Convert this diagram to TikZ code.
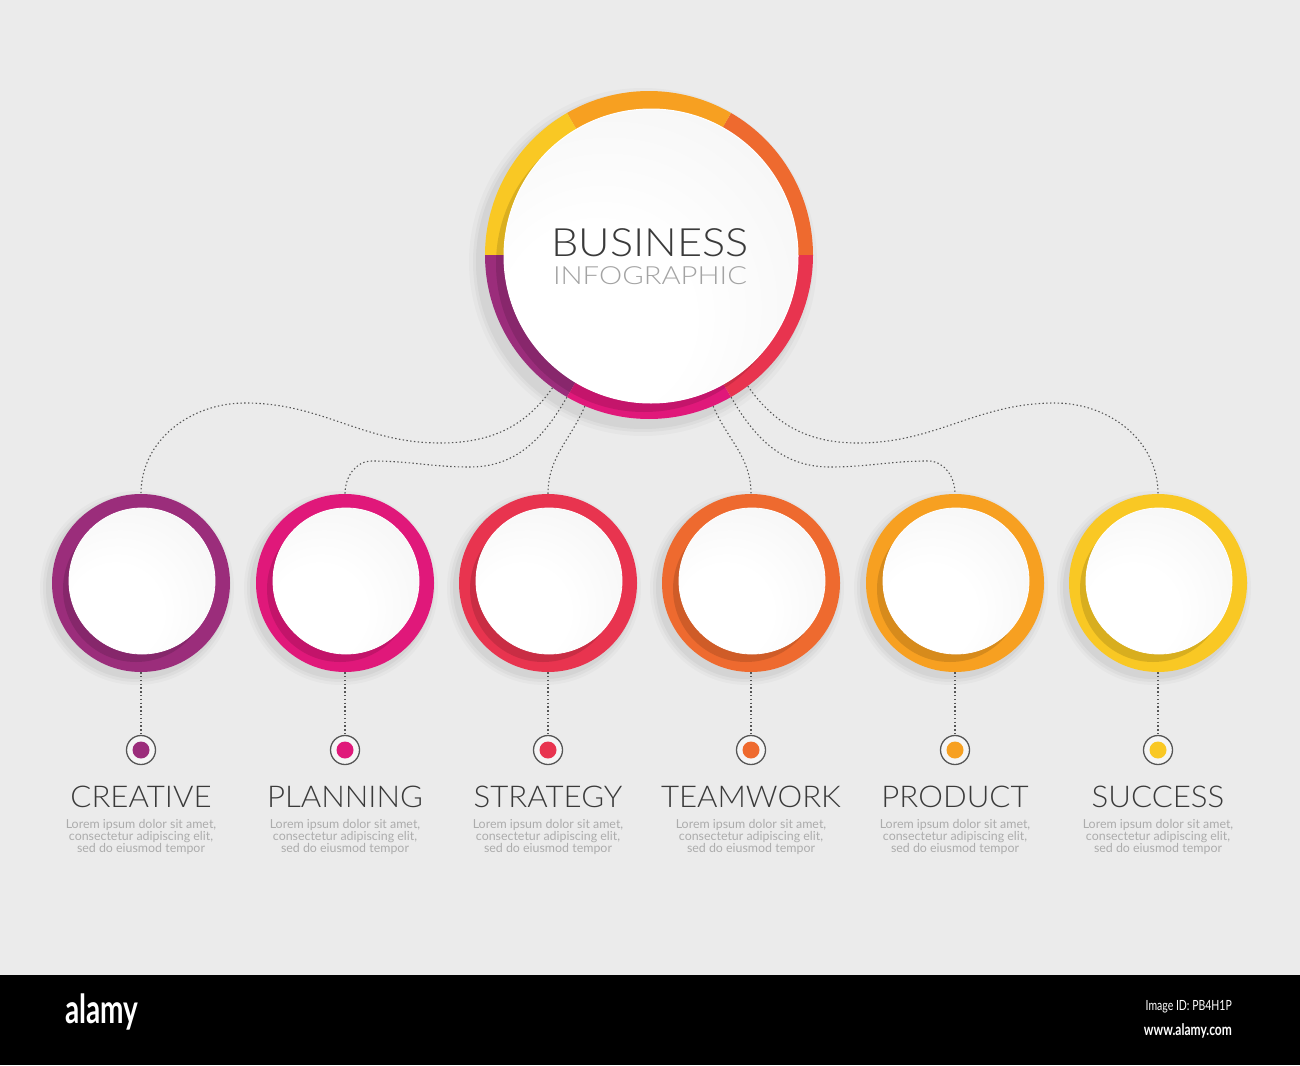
\documentclass[tikz,border=0pt]{standalone}
\usepackage{fontspec}
\setmainfont{Lato}
\newfontfamily\thinfont{Lato Light}
\usetikzlibrary{positioning}

\definecolor{bgGrey}{HTML}{EBEBEB}
\definecolor{cCreative}{HTML}{9B2D7B}
\definecolor{cPlanning}{HTML}{E0187A}
\definecolor{cStrategy}{HTML}{E8344F}
\definecolor{cTeamwork}{HTML}{EE6A2F}
\definecolor{cProduct}{HTML}{F7A021}
\definecolor{cSuccess}{HTML}{F9C824}
\definecolor{txtDark}{HTML}{3A3A3A}
\definecolor{txtGrey}{HTML}{A3A3A3}
\definecolor{dotGrey}{HTML}{555555}

\pgfdeclareradialshading{discshade}{\pgfpoint{-12bp}{-14bp}}{%
  color(0bp)=(white); color(16bp)=(white); color(45bp)=(black!5); color(70bp)=(black!11)}

\tikzset{
  ring/.style={circle, inner sep=0pt, minimum size=#1},
  disc/.style={circle, inner sep=0pt, minimum size=#1, shading=discshade},
  link/.style={dotGrey, line width=1.1pt, dash pattern=on 1.4pt off 2.4pt},
  marker/.style={circle, draw=dotGrey, line width=1.3pt, fill=white!96!black,
    inner sep=0pt, minimum size=29pt},
  steptitle/.style={text=txtDark, font=\thinfont\fontsize{30}{30}\selectfont, xscale=1.04, inner sep=0pt},
  lorem/.style={text=txtGrey!90, font=\fontsize{12.4}{12}\selectfont, align=center, inner sep=0pt}
}

\begin{document}
\begin{tikzpicture}[x=1pt, y=-1pt]
\useasboundingbox (0,0) rectangle (1300,1065);
% Background
\fill[bgGrey] (0,0) rectangle (1300,975);
\fill[black] (0,975) rectangle (1300,1065);

% Main circle
\foreach \r/\o in {10/0.025, 6/0.03, 3/0.04}
  \fill[black, opacity=\o] (643,262) circle[radius=164pt+\r pt];
\node[ring=328pt] (main) at (649,255) {};
\foreach \a/\col in {0/cTeamwork, 60/cProduct, 120/cSuccess, 180/cCreative, 240/cPlanning, 300/cStrategy}
  \fill[\col] (main.center) -- ++(\a:164pt) arc[start angle=\a, end angle=\a+60, radius=164pt] -- cycle;
\begin{scope}
  \clip (main.center) circle[radius=164pt];
  \fill[black, opacity=0.12] (644,264) circle[radius=148pt];
\end{scope}
\node[disc=294pt, draw=white, line width=1pt] (hub) at (651,256) {};
\node[text=txtDark, font=\thinfont\fontsize{39}{39}\selectfont, xscale=1.11, inner sep=0pt] (biz) at (650,243) {BUSINESS};
\node[text=txtGrey, font=\thinfont\fontsize{25}{25}\selectfont, xscale=1.17, inner sep=0pt] (info) at (650,276) {INFOGRAPHIC};

% Steps
\foreach \i/\x/\col/\name in {1/141/cCreative/CREATIVE, 2/345/cPlanning/PLANNING,
    3/548/cStrategy/STRATEGY, 4/751/cTeamwork/TEAMWORK,
    5/955/cProduct/PRODUCT, 6/1158/cSuccess/SUCCESS}{
  \foreach \r/\o in {8/0.025, 5/0.03, 2/0.04}
    \fill[black, opacity=\o] (\x-4,588) circle[radius=89pt+\r pt];
  \node[ring=178pt, fill=\col] (c\i) at (\x,583) {};
  \begin{scope}
    \clip (c\i.center) circle[radius=89pt];
    \fill[black, opacity=0.13] (\x-5,589) circle[radius=73pt];
  \end{scope}
  \node[disc=146pt, draw=white, line width=0.8pt] (d\i) at (\x+1,581) {};
  \node[marker] (m\i) at (\x,750) {};
  \fill[\col] (m\i.center) circle[radius=8.5pt];
  \draw[link] (c\i.south) -- (m\i.north);
  \node[steptitle] (t\i) at (\x,797) {\name};
  \node[lorem, below=11pt of t\i] (l\i) {Lorem ipsum dolor sit amet,\\ consectetur adipiscing elit,\\ sed do eiusmod tempor};
}

% Connectors from the hub
\draw[link] (main.234) to[out=235, in=0] (440,443) to[out=180, in=0] (245,403)
  to[out=180, in=90] (c1.north);
\draw[link] (main.240) to[out=240, in=0] (470,467) to[out=180, in=0] (372,461)
  to[out=180, in=90] (c2.north);
\draw[link] (main.247) to[out=247, in=90] (c3.north);
\draw[link] (main.293) to[out=293, in=90] (c4.north);
\draw[link] (main.300) to[out=300, in=180] (830,467) to[out=0, in=180] (928,461)
  to[out=0, in=90] (c5.north);
\draw[link] (main.307) to[out=305, in=180] (858,443) to[out=0, in=180] (1055,403)
  to[out=0, in=90] (c6.north);

% Footer band
\node[text=white, font=\bfseries\fontsize{40}{40}\selectfont, xscale=0.7, inner sep=0pt] (brand) at (102,1012) {alamy};
\node[text=white, font=\fontsize{14}{14}\selectfont, xscale=0.75, anchor=east, inner sep=0pt] (imgid) at (1232,1007) {Image ID: PB4H1P};
\node[text=white, font=\bfseries\fontsize{16}{16}\selectfont, xscale=0.75, anchor=east, inner sep=0pt] (site) at (1232,1031) {www.alamy.com};
\end{tikzpicture}
\end{document}
